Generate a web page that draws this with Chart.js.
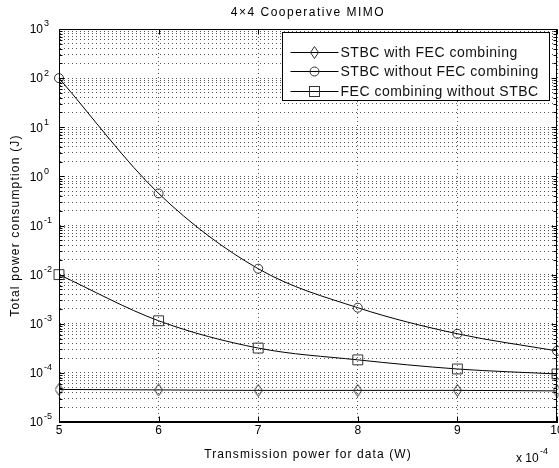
<!DOCTYPE html>
<html lang="en">
<head>
  <meta charset="UTF-8">
  <title>4x4 Cooperative MIMO</title>
  <style>
    html, body { margin: 0; padding: 0; background: #fff; overflow: hidden; }
    #wrap { width: 559px; height: 468px; overflow: hidden; }
  </style>
</head>
<body>
  <div id="wrap"><canvas id="myChart" width="580" height="468"></canvas></div>
  <script src="https://cdn.jsdelivr.net/npm/chart.js"></script>
  <script>
    // transmission power, in units of 10^-4 W
    const txPower = [5, 6, 7, 8, 9, 10]
    const stbcWithFec = [4.6e-5, 4.5e-5, 4.4e-5, 4.4e-5, 4.4e-5, 4.3e-5]
    const stbcWithoutFec = [100, 0.45, 0.0132, 0.00212, 6.25e-4, 2.8e-4]
    const fecWithoutStbc = [0.01, 1.15e-3, 3.2e-4, 1.84e-4, 1.2e-4, 9.5e-5]
    const seriesNames = ['STBC with FEC combining', 'STBC without FEC combining', 'FEC combining without STBC']
    const xTicks = [5, 6, 7, 8, 9, 10]
    const yExponents = [-5, -4, -3, -2, -1, 0, 1, 2, 3]

    const fontFam = '"Liberation Sans", Arial, Helvetica, sans-serif'
    const gridColor = '#555'

    // narrow diamond marker like matlab's 'd'
    function diamondMarker() {
      const c = document.createElement('canvas')
      c.width = 9
      c.height = 13
      const g = c.getContext('2d')
      g.strokeStyle = '#333'
      g.lineWidth = 1
      g.beginPath()
      g.moveTo(4.5, 0.5)
      g.lineTo(8.5, 6.5)
      g.lineTo(4.5, 12.5)
      g.lineTo(0.5, 6.5)
      g.closePath()
      g.stroke()
      return c
    }
    const diamond = diamondMarker()

    const pts = ys => txPower.map((x, i) => ({ x: x, y: ys[i] }))

    function text(ctx, s, x, y, size, align, spacing) {
      ctx.font = size + 'px ' + fontFam
      ctx.letterSpacing = (spacing || 0) + 'px'
      ctx.textAlign = align || 'left'
      ctx.textBaseline = 'middle'
      ctx.fillText(s, x, y)
      ctx.letterSpacing = '0px'
    }

    function marker(ctx, kind, x, y) {
      ctx.strokeStyle = '#333'
      ctx.lineWidth = 1
      ctx.beginPath()
      if (kind === 'circle') {
        ctx.arc(x, y, 4.5, 0, Math.PI * 2)
        ctx.stroke()
      } else if (kind === 'rect') {
        ctx.strokeRect(x - 5, y - 5, 10, 10)
      } else {
        ctx.drawImage(diamond, x - 4.5, y - 6.5)
      }
    }

    const matlabLook = {
      id: 'matlabLook',
      afterDraw(chart) {
        const ctx = chart.ctx
        const a = chart.chartArea
        const xs = chart.scales.x
        const ys = chart.scales.y
        ctx.save()
        ctx.fillStyle = '#000'
        ctx.strokeStyle = '#000'
        ctx.lineWidth = 1

        // box
        const L = Math.round(a.left) + 0.5
        const R = Math.round(a.right) - 0.5
        const T = Math.round(a.top) + 0.5
        const B = Math.round(a.bottom) - 0.5
        ctx.strokeRect(L, T, R - L, B - T)

        // inside tick marks
        ctx.beginPath()
        ys.ticks.forEach(t => {
          const p = Math.round(ys.getPixelForValue(t.value)) + 0.5
          const len = t.major ? 5 : 3
          ctx.moveTo(L, p); ctx.lineTo(L + len, p)
          ctx.moveTo(R, p); ctx.lineTo(R - len, p)
        })
        xTicks.forEach(v => {
          const p = Math.round(xs.getPixelForValue(v)) + 0.5
          ctx.moveTo(p, B); ctx.lineTo(p, B - 5)
          ctx.moveTo(p, T); ctx.lineTo(p, T + 5)
        })
        ctx.stroke()

        // y tick labels 10^n
        yExponents.forEach(e => {
          const p = ys.getPixelForValue(Math.pow(10, e))
          text(ctx, '10', 43, p + 1, 12, 'right')
          text(ctx, String(e), 44, p - 5, 9, 'left')
        })

        // titles
        text(ctx, '4\u00d74 Cooperative MIMO', (a.left + a.right) / 2, 13, 12, 'center', 1.5)
        text(ctx, 'Transmission power for data (W)', (a.left + a.right) / 2, 455, 12, 'center', 1.1)
        text(ctx, 'x 10', 516, 459, 12, 'left')
        text(ctx, '-4', 540, 452, 9, 'left')
        ctx.save()
        ctx.translate(16, (a.top + a.bottom) / 2)
        ctx.rotate(-Math.PI / 2)
        text(ctx, 'Total power consumption (J)', 0, 0, 12, 'center', 1.2)
        ctx.restore()

        // legend
        const bw = 267, bh = 68
        const bx = Math.round(a.right) - 8 - bw + 0.5
        const by = Math.round(a.top) + 3 + 0.5
        ctx.fillStyle = '#fff'
        ctx.fillRect(bx, by, bw, bh)
        ctx.strokeStyle = '#000'
        ctx.strokeRect(bx, by, bw, bh)
        const kinds = ['diamond', 'circle', 'rect']
        seriesNames.forEach((name, i) => {
          const ry = Math.round(by + 19 + i * 19.5) + 0.5
          ctx.strokeStyle = '#000'
          ctx.beginPath()
          ctx.moveTo(bx + 8, ry)
          ctx.lineTo(bx + 56, ry)
          ctx.stroke()
          marker(ctx, kinds[i], bx + 32, ry)
          ctx.fillStyle = '#111'
          text(ctx, name, bx + 58, ry + 0.5, 14, 'left', 0.5)
        })
        ctx.restore()
      }
    }

    const ctx = document.getElementById('myChart')

    new Chart(ctx, {
      type: 'line',
      data: {
        datasets: [{
          label: seriesNames[0],
          data: pts(stbcWithFec),
          pointStyle: diamond,
          pointRadius: 5,
        }, {
          label: seriesNames[1],
          data: pts(stbcWithoutFec),
          pointStyle: 'circle',
          pointRadius: 4.5,
        }, {
          label: seriesNames[2],
          data: pts(fecWithoutStbc),
          pointStyle: 'rect',
          pointRadius: 7,
        }].map(d => Object.assign(d, {
          borderColor: '#000',
          borderWidth: 1,
          backgroundColor: 'transparent',
          pointBorderColor: '#333',
          pointBackgroundColor: 'transparent',
          pointBorderWidth: 1,
          cubicInterpolationMode: 'monotone',
          clip: false,
        }))
      },
      options: {
        responsive: false,
        animation: false,
        events: [],
        layout: { padding: { top: 29, right: 23, left: 0, bottom: 0 } },
        plugins: {
          legend: { display: false },
          tooltip: { enabled: false },
          title: { display: false },
        },
        scales: {
          x: {
            type: 'linear',
            min: 5,
            max: 10,
            afterBuildTicks: s => { s.ticks = xTicks.map(v => ({ value: v })) },
            afterFit: s => { s.height = 46 },
            ticks: {
              color: '#000',
              padding: 1,
              font: { size: 12, family: fontFam },
              maxRotation: 0,
              autoSkip: false,
            },
            grid: { color: gridColor, lineWidth: 1, drawTicks: false, tickLength: 0 },
            border: { display: true, color: '#000', dash: [1, 3] },
          },
          y: {
            type: 'logarithmic',
            min: 1e-5,
            max: 1e3,
            afterBuildTicks: s => {
              const t = []
              yExponents.forEach(e => {
                for (let k = 1; k <= 9; k++) {
                  if (e === 3 && k > 1) break
                  t.push({ value: k * Math.pow(10, e), major: k === 1 })
                }
              })
              s.ticks = t
            },
            afterFit: s => { s.width = 59 },
            ticks: { display: false },
            grid: { color: gridColor, lineWidth: 1, drawTicks: false, tickLength: 0 },
            border: { display: true, color: '#000', dash: [1, 3] },
          }
        }
      },
      plugins: [matlabLook]
    });
  </script>
</body>
</html>
